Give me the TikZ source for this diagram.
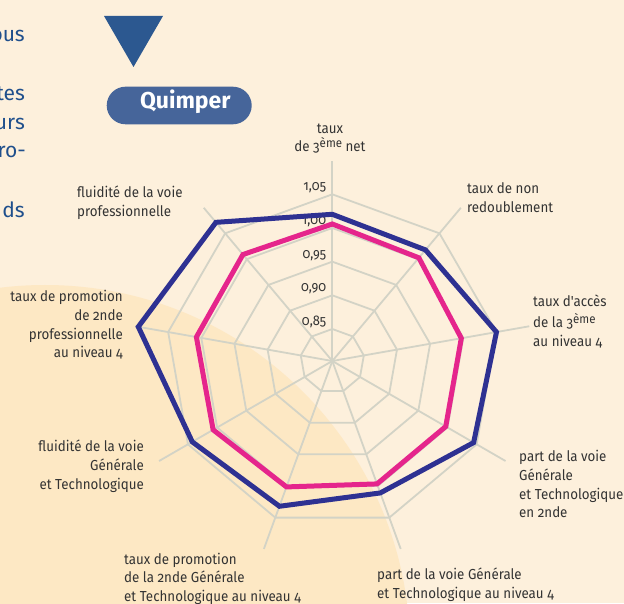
\documentclass[tikz,border=0pt]{standalone}
\usepackage{fontspec}
\setmainfont{Fira Sans}[Numbers=OldStyle]
\newfontfamily\labfont{Fira Sans}[Numbers=OldStyle,FakeStretch=0.92]
\usetikzlibrary{calc}
\definecolor{bgcol}{HTML}{FDF0DC}
\definecolor{circcol}{HTML}{FDE8C4}
\definecolor{gridcol}{HTML}{D3D3C6}
\definecolor{bluecol}{HTML}{2E3192}
\definecolor{pinkcol}{HTML}{E5258C}
\definecolor{labcol}{HTML}{333333}
\definecolor{paracol}{HTML}{1F4F8C}
\definecolor{tricol}{HTML}{2C5890}
\definecolor{pillcol}{HTML}{46659A}
\newcommand{\supeme}{\raisebox{4pt}{\fontsize{12.5}{13}\selectfont ème}}
\begin{document}
\begin{tikzpicture}[x=1pt,y=1pt,
  gridline/.style={draw=gridcol,line width=1.8pt},
  series/.style={line width=5pt,line join=miter},
  lab/.style={font=\labfont\fontsize{14.5}{18.7}\selectfont,text=labcol,inner sep=0pt},
  tick/.style={font=\labfont\fontsize{14}{16}\selectfont,text=labcol,inner sep=0pt,anchor=base east},
  para/.style={font=\fontsize{21}{28}\selectfont,text=paracol,inner sep=0pt,anchor=base east},
  quim/.style={font=\bfseries\fontsize{23}{26}\selectfont,text=white,inner sep=0pt,anchor=base}]
\useasboundingbox (0,0) rectangle (624,603);
\fill[bgcol] (0,0) rectangle (624,603);
\begin{scope}
  \clip (0,0) rectangle (624,603);
  \fill[circcol] (45,-47) circle (365);
\end{scope}
% paragraph fragments
\node[para] (p1) at (25,561.3) {ous};
\node[para] (p2) at (25,502.3) {tes};
\node[para] (p3) at (25,473.7) {urs};
\node[para] (p4) at (26,445.7) {ro-};
\node[para] (p5) at (25,385.7) {ds};
% triangle and title
\fill[tricol] (104,587) -- (163,587) -- (133.5,536) -- cycle;
\fill[pillcol,rounded corners=18.8pt] (106.7,478.7) rectangle (251.7,516.3);
\node[quim] (quimper) at (185.3,494.7) {Quimper};
% web
\coordinate (C) at (332.3,242);
\foreach \a in {90,50,10,-30,-70,-110,-150,170,130}
  \draw[gridline] (C) -- ++(\a:200);
\foreach \r in {32,65.67,99.33,133,166.67}
  \draw[gridline,shift={(C)}] (90:\r) -- (50:\r) -- (10:\r) -- (-30:\r) -- (-70:\r)
    -- (-110:\r) -- (-150:\r) -- (170:\r) -- (130:\r) -- cycle;
% ticks
\node[tick] (t1) at ($(C)+(-6,35.3)$) {0,85};
\node[tick] (t2) at ($(C)+(-6,69)$) {0,90};
\node[tick] (t3) at ($(C)+(-6,102.6)$) {0,95};
\node[tick] (t4) at ($(C)+(-6,136.3)$) {1,00};
\node[tick] (t5) at ($(C)+(-6,170)$) {1,05};
% series
\draw[series,draw=pinkcol,shift={(C)}] (90:137) -- (50:134.7) -- (10:131) -- (-30:131)
  -- (-70:130.8) -- (-110:134) -- (-150:137.6) -- (170:138) -- (130:139) -- cycle;
\draw[series,draw=bluecol,shift={(C)}] (90:146.7) -- (50:145) -- (10:166.7) -- (-30:163.2)
  -- (-70:140.4) -- (-110:154.6) -- (-150:161.7) -- (170:197) -- (130:181) -- cycle;
% axis labels
\node[lab,anchor=north,align=center] (l1) at (330,482.8) {\strut taux\\[-2.7pt] de 3\supeme\ net};
\node[lab,anchor=north west,align=left] (l2) at (467,422.8) {\strut taux de non\\redoublement};
\node[lab,anchor=north west,align=left] (l3) at (533,309.4) {\strut taux d'accès\\de la 3\supeme\\au niveau 4};
\node[lab,anchor=north west,align=left] (l4) at (519,154.4) {\strut part de la voie\\Générale\\et Technologique\\en 2nde};
\node[lab,anchor=north west,align=left] (l5) at (377,36.8) {\strut part de la voie Générale\\et Technologique au niveau 4};
\node[lab,anchor=north west,align=left] (l6) at (124,52.1) {\strut taux de promotion\\de la 2nde Générale\\et Technologique au niveau 4};
\node[lab,anchor=north east,align=right] (l7) at (144,164.4) {\strut fluidité de la voie\\Générale\\et Technologique};
\node[lab,anchor=north east,align=right] (l8) at (123,314.4) {\strut taux de promotion\\de 2nde\\professionnelle\\au niveau 4};
\node[lab,anchor=north west,align=left] (l9) at (77,418.8) {\strut fluidité de la voie\\professionnelle};
\end{tikzpicture}
\end{document}
